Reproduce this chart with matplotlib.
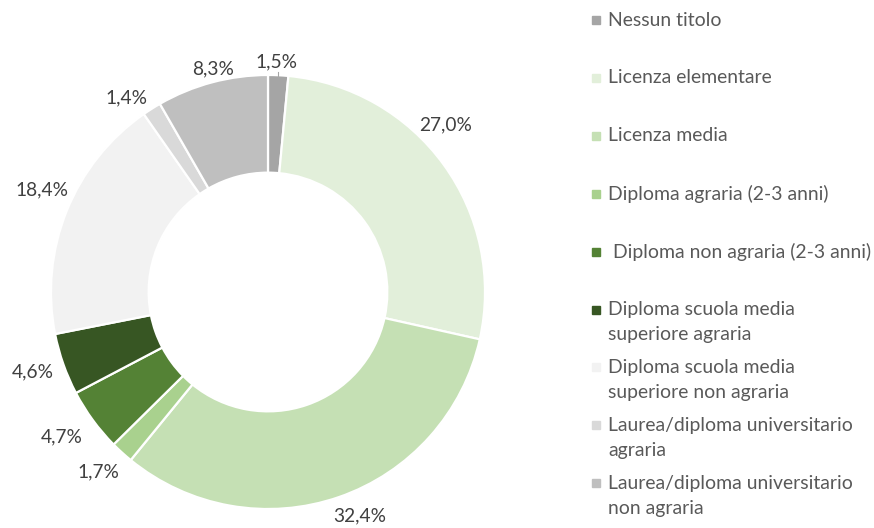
import numpy as np
import matplotlib
matplotlib.use("Agg")
import matplotlib.pyplot as plt

categories = [
    "Nessun titolo",
    "Licenza elementare",
    "Licenza media",
    "Diploma agraria (2-3 anni)",
    " Diploma non agraria (2-3 anni)",
    "Diploma scuola media\nsuperiore agraria",
    "Diploma scuola media\nsuperiore non agraria",
    "Laurea/diploma universitario\nagraria",
    "Laurea/diploma universitario\nnon agraria",
]
shares = [1.5, 27.0, 32.4, 1.7, 4.7, 4.6, 18.4, 1.4, 8.3]
colors = ["#A5A5A5", "#E2EFDA", "#C5E0B4", "#A9D18E", "#548235",
          "#375623", "#F2F2F2", "#D9D9D9", "#BFBFBF"]

# label centres in radius units (the small slices get pushed apart)
label_xy = [(0.041, 1.060), (0.816, 0.770), (0.424, -1.032), (-0.783, -0.829),
            (-0.949, -0.668), (-1.083, -0.369), (-1.041, 0.470), (-0.654, 0.894),
            (-0.253, 1.028)]

plt.rcParams["font.family"] = ["Lato", "DejaVu Sans"]

W, H = 874, 528
fig = plt.figure(figsize=(W / 100, H / 100), dpi=100)

cx, cy, R = 268, 292, 217
ax = fig.add_axes([(cx - R) / W, (H - cy - R) / H, 2 * R / W, 2 * R / H])
ax.pie(shares, colors=colors, startangle=90, counterclock=False, radius=1,
       wedgeprops=dict(width=0.45, edgecolor="white", linewidth=1.6))
ax.set_xlim(-1, 1)
ax.set_ylim(-1, 1)
ax.set_aspect("equal")
ax.axis("off")

for v, (x, y) in zip(shares, label_xy):
    ax.text(x, y, f"{v:.1f}%".replace(".", ","), ha="center", va="center",
            fontsize=13.8, color="#404040", clip_on=False)
# leader for the first label
ax.plot([0.045, 0.045], [1.015, 0.99], color="#A6A6A6", lw=0.8, clip_on=False)

# legend drawn by hand so the markers sit beside the first line
lx, ly0, step, line_h = 596, 20, 57.9, 25
for i, (lab, col) in enumerate(zip(categories, colors)):
    py = ly0 + i * step
    fig.patches.append(plt.Rectangle(((lx - 4) / W, (H - py - 4) / H), 8 / W, 8 / H,
                                     transform=fig.transFigure, color=col))
    for k, line in enumerate(lab.split("\n")):
        fig.text((lx + 12) / W, (H - py - k * line_h) / H, line, ha="left",
                 va="center", fontsize=13.95, color="#595959")

fig.savefig("out.png", dpi=100)
